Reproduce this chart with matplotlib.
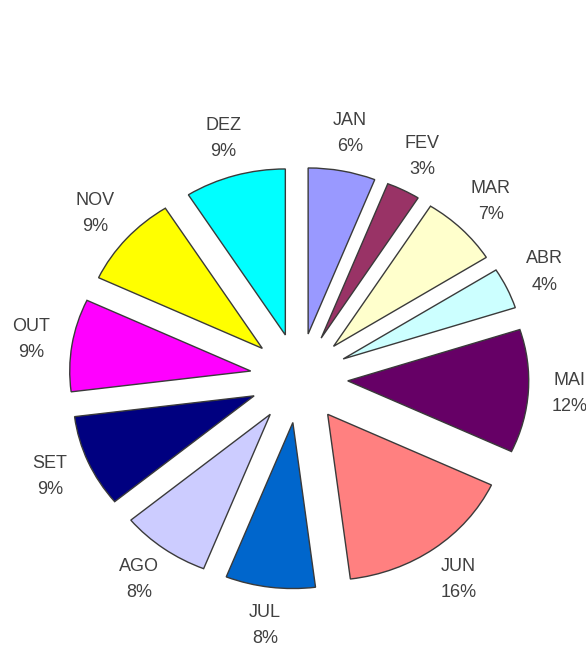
import matplotlib
matplotlib.use('Agg')
import matplotlib.pyplot as plt

# monthly shares (%)
months = ['JAN', 'FEV', 'MAR', 'ABR', 'MAI', 'JUN',
          'JUL', 'AGO', 'SET', 'OUT', 'NOV', 'DEZ']
shares = [6, 3, 7, 4, 12, 16, 8, 8, 9, 9, 9, 9]
colors = ['#9999FF', '#993366', '#FFFFCC', '#CCFFFF', '#660066', '#FF8080',
          '#0066CC', '#CCCCFF', '#000080', '#FF00FF', '#FFFF00', '#00FFFF']

labels = ['{0}\n{1}%'.format(m, v) for m, v in zip(months, shares)]

fig = plt.figure(figsize=(5.86, 6.46), dpi=100)
ax = fig.add_axes([0, 0, 1, 1])

ax.pie(shares, labels=labels, colors=colors, startangle=90, counterclock=False,
       explode=[0.27] * len(shares), labeldistance=1.23,
       wedgeprops={'edgecolor': '#3a3a3a', 'linewidth': 1.0},
       textprops={'ha': 'center', 'va': 'center', 'fontsize': 13,
                  'color': '#404040', 'family': 'Liberation Sans',
                  'linespacing': 1.7})

# slightly squashed pie, as in the original picture
ax.set_aspect('auto')
ax.set_xlim(-1.652, 1.586)
ax.set_ylim(-1.614, 2.277)
ax.axis('off')

fig.savefig('out.png', dpi=100)
